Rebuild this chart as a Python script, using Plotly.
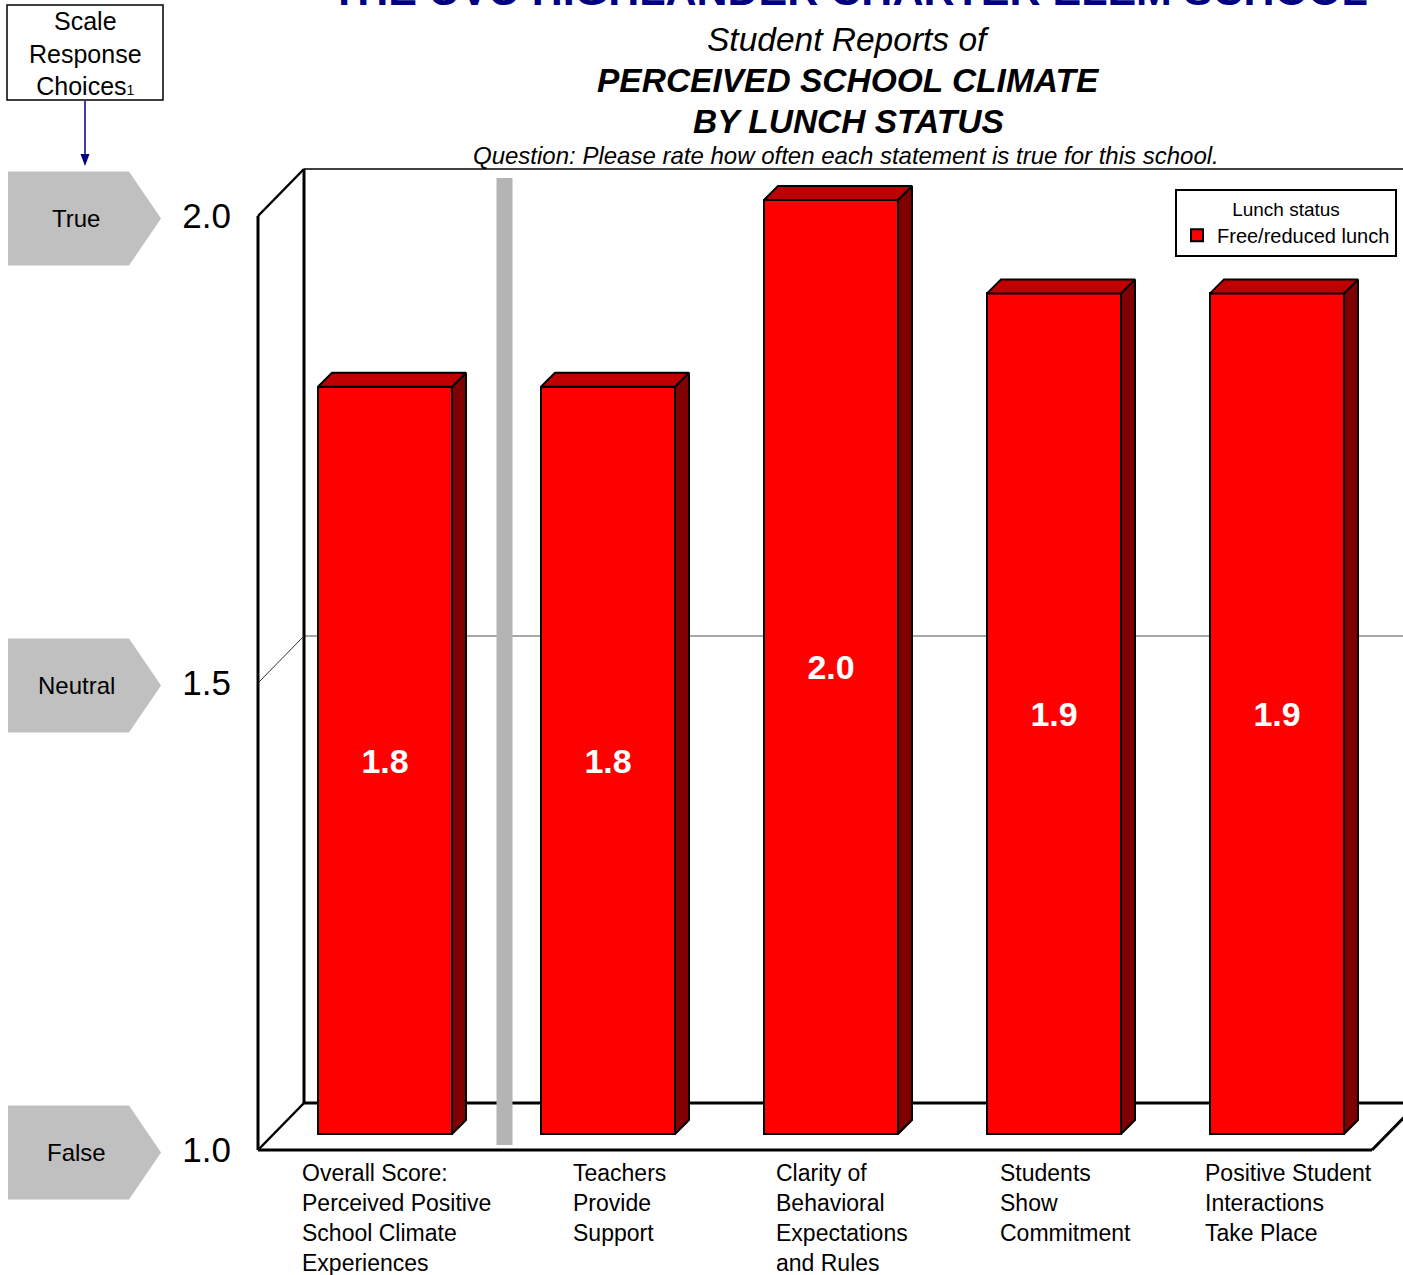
import plotly.graph_objects as go

# ---------------- data ----------------
categories = [
    "Overall Score:<br>Perceived Positive<br>School Climate<br>Experiences",
    "Teachers<br>Provide<br>Support",
    "Clarity of<br>Behavioral<br>Expectations<br>and Rules",
    "Students<br>Show<br>Commitment",
    "Positive Student<br>Interactions<br>Take Place",
]
values = [1.8, 1.8, 2.0, 1.9, 1.9]
series_name = "Free/reduced lunch"
legend_title = "Lunch status"
tick_values = [1.0, 1.5, 2.0]
tick_labels = ["1.0", "1.5", "2.0"]
scale_labels = ["False", "Neutral", "True"]
school_title = "THE UVU HIGHLANDER CHARTER ELEM SCHOOL"
title_lines = ["Student Reports of", "PERCEIVED SCHOOL CLIMATE", "BY LUNCH STATUS"]
question = "Question: Please rate how often each statement is true for this school."

# ---------------- geometry / style ----------------
W, H = 1403, 1275
ML, MR, MT, MB = 240, 0, 150, 110
PW, PH = W - ML - MR, H - MT - MB
FONT = "Liberation Sans, Arial, sans-serif"

XU, YU = 223.0, 934.0          # pixels per data unit
X0PX, Y0PX = 385.0, 1150.0     # pixel of x=0 and y=1.0 (front plane)
xr = [-(X0PX - ML) / XU, (W - MR - X0PX) / XU]
yr = [1 - (MT + PH - Y0PX) / YU, 1 + (Y0PX - MT) / YU]


def pxx(px):
    return (px - ML) / PW


def pxy(py):
    return (MT + PH - py) / PH


def vy_paper(v):
    return (v - yr[0]) / (yr[1] - yr[0])


wall_x = (258 - X0PX) / XU
back_dx, back_dy = 46 / XU, 47 / YU
bar_w = 134 / XU
bar_dx, bar_dy = 14 / XU, 14 / YU
bar_base = 1 + 16 / YU
ymin_axis, ymax_axis = tick_values[0], tick_values[-1]

RED, TOP, SIDE = "#FF0000", "#C00000", "#800000"

fig = go.Figure()

xs = list(range(len(categories)))

# 3D faces (side + top) of each bar
for xi, v in zip(xs, values):
    top = v + (bar_base - 1)
    xl, xrt = xi - bar_w / 2, xi + bar_w / 2
    fig.add_trace(go.Scatter(
        x=[xrt, xrt, xrt + bar_dx, xrt + bar_dx, xrt],
        y=[bar_base, top, top + bar_dy, bar_base + bar_dy, bar_base],
        mode="lines", fill="toself", fillcolor=SIDE,
        line=dict(color="black", width=2), showlegend=False, hoverinfo="skip"))
    fig.add_trace(go.Scatter(
        x=[xl, xrt, xrt + bar_dx, xl + bar_dx, xl],
        y=[top, top, top + bar_dy, top + bar_dy, top],
        mode="lines", fill="toself", fillcolor=TOP,
        line=dict(color="black", width=2), showlegend=False, hoverinfo="skip"))

# front faces
fig.add_trace(go.Bar(
    x=xs, y=[v - 1 for v in values], base=bar_base, width=bar_w,
    name=series_name,
    marker=dict(color=RED, line=dict(color="black", width=2)),
    text=[f"{v:.1f}" for v in values], textposition="inside",
    insidetextanchor="middle", textangle=0,
    textfont=dict(family=FONT, size=34, color="white", weight="bold"),
    hoverinfo="skip", showlegend=True))

shapes = []
# back wall / floor frame lines (below traces)
right = xr[1] + 0.2
bx = wall_x + back_dx
shapes += [
    dict(type="line", x0=bx, x1=right, y0=ymax_axis + back_dy, y1=ymax_axis + back_dy,
         line=dict(color="black", width=1.5), layer="below"),
    dict(type="line", x0=bx, x1=right, y0=1.5 + back_dy, y1=1.5 + back_dy,
         line=dict(color="#505050", width=1), layer="below"),
    dict(type="line", x0=bx, x1=right, y0=ymin_axis + back_dy, y1=ymin_axis + back_dy,
         line=dict(color="black", width=3), layer="below"),
    dict(type="line", x0=bx, x1=bx, y0=ymin_axis + back_dy, y1=ymax_axis + back_dy,
         line=dict(color="black", width=3), layer="below"),
    dict(type="line", x0=wall_x, x1=bx, y0=ymax_axis, y1=ymax_axis + back_dy,
         line=dict(color="black", width=2.5), layer="below"),
    dict(type="line", x0=wall_x, x1=bx, y0=1.5, y1=1.5 + back_dy,
         line=dict(color="#303030", width=1), layer="below"),
    dict(type="line", x0=wall_x, x1=bx, y0=ymin_axis, y1=ymin_axis + back_dy,
         line=dict(color="black", width=2.5), layer="below"),
    dict(type="line", x0=wall_x, x1=wall_x, y0=ymin_axis, y1=ymax_axis,
         line=dict(color="black", width=3), layer="below"),
]
floor_end = (1372 - X0PX) / XU
shapes += [
    dict(type="line", x0=wall_x, x1=floor_end, y0=ymin_axis, y1=ymin_axis,
         line=dict(color="black", width=3), layer="below"),
    dict(type="line", x0=floor_end, x1=floor_end + back_dx * 1.5, y0=ymin_axis,
         y1=ymin_axis + back_dy * 1.5, line=dict(color="black", width=3), layer="below"),
]
# gray separator between overall score and sub-scales
sep_x = (xs[0] + xs[1]) / 2 + 8 / XU
shapes.append(dict(type="rect", x0=sep_x - 8 / XU, x1=sep_x + 8 / XU,
                   y0=1 + 5 / YU, y1=1 + 972 / YU,
                   fillcolor="#B4B4B4", line=dict(width=0), layer="below"))

# scale-response box, arrow and pentagons
shapes.append(dict(type="rect", xref="paper", yref="paper",
                   x0=pxx(7), x1=pxx(163), y0=pxy(5), y1=pxy(100),
                   line=dict(color="black", width=1.5), fillcolor="white"))
shapes.append(dict(type="line", xref="paper", yref="paper",
                   x0=pxx(85), x1=pxx(85), y0=pxy(101), y1=pxy(158),
                   line=dict(color="#000080", width=1.5)))
shapes.append(dict(type="path", xref="paper", yref="paper",
                   path=f"M {pxx(80.5)},{pxy(154)} L {pxx(89.5)},{pxy(154)} "
                        f"L {pxx(85)},{pxy(166)} Z",
                   fillcolor="#000080", line=dict(width=0)))
hh = 47 / PH
dyc = 2.5 / PH
for tv in tick_values:
    yc = vy_paper(tv) - dyc
    path = (f"M {pxx(8)},{yc + hh} L {pxx(129)},{yc + hh} L {pxx(161)},{yc} "
            f"L {pxx(129)},{yc - hh} L {pxx(8)},{yc - hh} Z")
    shapes.append(dict(type="path", xref="paper", yref="paper", path=path,
                       fillcolor="#C0C0C0", line=dict(width=0)))

annotations = []
for tv, lab in zip(tick_values, scale_labels):
    annotations.append(dict(xref="paper", yref="paper", x=pxx(76), y=vy_paper(tv) - dyc,
                            text=lab, showarrow=False, xanchor="center", yanchor="middle",
                            font=dict(family=FONT, size=24, color="black")))
annotations.append(dict(xref="paper", yref="paper", x=pxx(85), y=pxy(53),
                        text="Scale<br>Response<br>Choices<span style='font-size:14px'>1</span>",
                        showarrow=False,
                        xanchor="center", yanchor="middle",
                        font=dict(family=FONT, size=25, color="black")))

# titles
annotations.append(dict(xref="paper", yref="paper", x=pxx(850), y=pxy(-10),
                        text=f"<b>{school_title}</b>", showarrow=False,
                        xanchor="center", yanchor="middle",
                        font=dict(family=FONT, size=43, color="#000080")))
title_y = [40, 80, 121]
title_fmt = ["<i>{}</i>", "<b><i>{}</i></b>", "<b><i>{}</i></b>"]
for t, ty, fmt in zip(title_lines, title_y, title_fmt):
    annotations.append(dict(xref="paper", yref="paper", x=pxx(848), y=pxy(ty),
                            text=fmt.format(t), showarrow=False,
                            xanchor="center", yanchor="middle",
                            font=dict(family=FONT, size=33.5, color="black")))
annotations.append(dict(xref="paper", yref="paper", x=pxx(846), y=pxy(155),
                        text=f"<i>{question}</i>", showarrow=False,
                        xanchor="center", yanchor="middle",
                        font=dict(family=FONT, size=24, color="black")))

# category labels
for xi, c in zip(xs, categories):
    annotations.append(dict(xref="x", yref="paper", x=xi + 0.05, y=pxy(1158),
                            text=c, showarrow=False, xanchor="center", yanchor="top",
                            align="left", font=dict(family=FONT, size=23, color="black")))

fig.update_layout(
    width=W, height=H,
    margin=dict(l=ML, r=MR, t=MT, b=MB, pad=0),
    paper_bgcolor="white", plot_bgcolor="white",
    font=dict(family=FONT, color="black"),
    shapes=shapes, annotations=annotations,
    bargap=0,
    showlegend=True,
    legend=dict(
        x=pxx(1397), xanchor="right", y=pxy(189), yanchor="top",
        bgcolor="white", bordercolor="black", borderwidth=2,
        font=dict(family=FONT, size=20, color="black"),
        title=dict(text=legend_title, side="top center",
                   font=dict(family=FONT, size=19, color="black")),
        itemsizing="constant", tracegroupgap=0,
    ),
    xaxis=dict(range=xr, showgrid=False, zeroline=False, showline=False,
               showticklabels=False, ticks="", automargin=False, fixedrange=True),
    yaxis=dict(range=yr, showgrid=False, zeroline=False, showline=False,
               tickvals=tick_values, ticktext=tick_labels, ticks="",
               ticklabelstandoff=8,
               tickfont=dict(family=FONT, size=35, color="black"),
               automargin=False, fixedrange=True),
)

fig.write_html("out.html", config={"displayModeBar": False},
               post_script="document.body.style.margin='0';")
